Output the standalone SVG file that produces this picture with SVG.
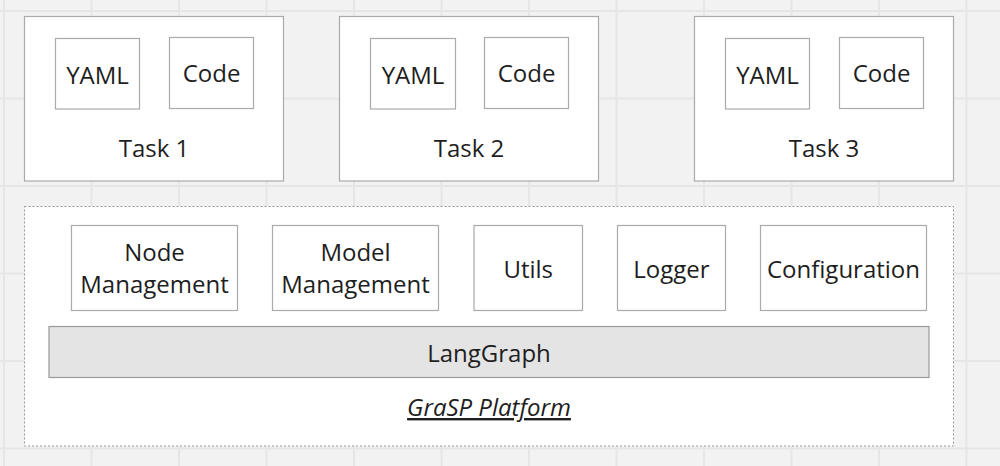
<svg xmlns="http://www.w3.org/2000/svg" width="1000" height="466" viewBox="0 0 1000 466">
<style>
.t{font-family:"Open Sans","Noto Sans","Liberation Sans",sans-serif;font-size:24px;fill:#1e1e1e;text-anchor:middle}
.box{fill:#fff;stroke:#aaa;stroke-width:1.2}
.grid{stroke:#e6e6e6;stroke-width:2;fill:none}
</style>
<rect x="0" y="0" width="1000" height="466" fill="#f2f2f2"/>
<path class="grid" d="M4 0V466M91.5 0V466M179 0V466M266.5 0V466M354 0V466M441.5 0V466M529 0V466M616.5 0V466M704 0V466M791.5 0V466M879 0V466M966.5 0V466M0 11H1000M0 98.5H1000M0 186H1000M0 273.5H1000M0 361H1000M0 448.5H1000"/>
<g id="task1">
<rect class="box" x="24.5" y="16.5" width="259" height="164.5"/>
<text class="t" x="154" y="157">Task 1</text>
</g>
<g id="yaml1"><rect class="box" x="55.5" y="38.5" width="84" height="70.5"/><text class="t" x="97.5" y="84">YAML</text></g>
<g id="code1"><rect class="box" x="169.5" y="37.5" width="84" height="71"/><text class="t" x="211.5" y="82">Code</text></g>
<g id="task2">
<rect class="box" x="339.5" y="16.5" width="259" height="164.5"/>
<text class="t" x="469" y="157">Task 2</text>
</g>
<g id="yaml2"><rect class="box" x="370.5" y="38.5" width="85" height="70.5"/><text class="t" x="413" y="84">YAML</text></g>
<g id="code2"><rect class="box" x="484.5" y="37.5" width="84" height="71"/><text class="t" x="526.5" y="82">Code</text></g>
<g id="task3">
<rect class="box" x="694.5" y="16.5" width="259" height="164.5"/>
<text class="t" x="824" y="157">Task 3</text>
</g>
<g id="yaml3"><rect class="box" x="725.5" y="38.5" width="84" height="70.5"/><text class="t" x="767.5" y="84">YAML</text></g>
<g id="code3"><rect class="box" x="839.5" y="37.5" width="84" height="71"/><text class="t" x="881.5" y="82">Code</text></g>
<g id="platform">
<rect x="24.5" y="206.5" width="929" height="239.5" fill="#fff" stroke="#999" stroke-width="1" stroke-dasharray="2 2"/>
<text class="t" x="489" y="416" font-style="italic" text-decoration="underline">GraSP Platform</text>
</g>
<g id="node-management"><rect class="box" x="71.5" y="225.5" width="166" height="85"/><text class="t" x="154.5" y="261">Node</text><text class="t" x="154.5" y="293">Management</text></g>
<g id="model-management"><rect class="box" x="272.5" y="225.5" width="166" height="85"/><text class="t" x="355.5" y="261">Model</text><text class="t" x="355.5" y="293">Management</text></g>
<g id="utils"><rect class="box" x="474" y="225.5" width="108.5" height="85"/><text class="t" x="528.25" y="278">Utils</text></g>
<g id="logger"><rect class="box" x="617.5" y="225.5" width="108" height="85"/><text class="t" x="671.5" y="278">Logger</text></g>
<g id="configuration"><rect class="box" x="760.5" y="225.5" width="166" height="85"/><text class="t" x="843.5" y="278">Configuration</text></g>
<g id="langgraph"><rect x="49" y="326.5" width="880" height="51" fill="#e4e4e4" stroke="#999" stroke-width="1.2"/><text class="t" x="489" y="362">LangGraph</text></g>
<g id="connectors"></g>
</svg>
